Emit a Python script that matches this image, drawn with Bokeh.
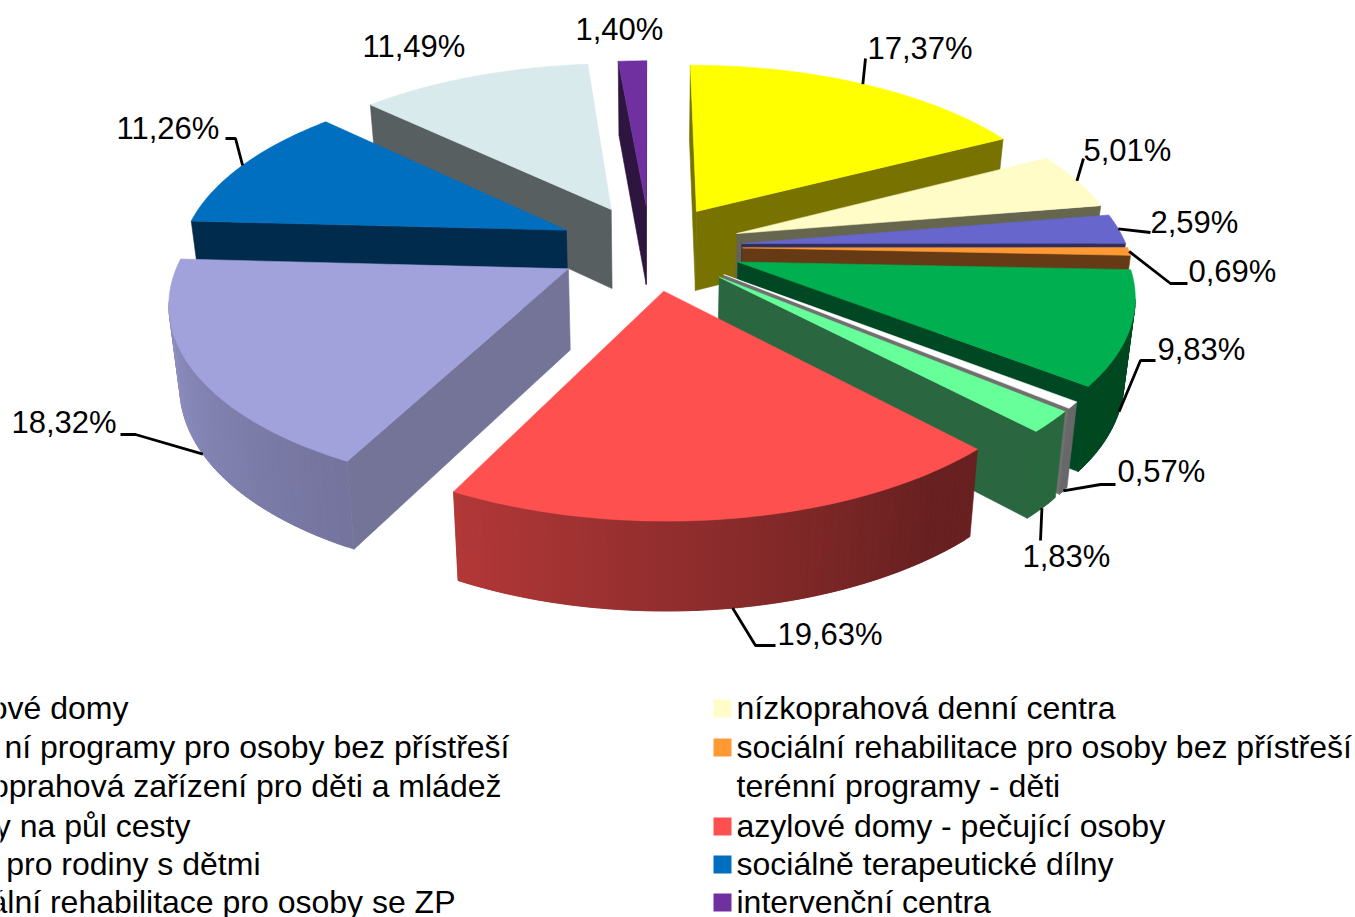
from math import sin, cos, radians
from bokeh.plotting import figure
from bokeh.embed import file_html
from bokeh.resources import INLINE
from bokeh.core.properties import value

# ---------- data ----------
categories = ["ové domy", "nízkoprahová denní centra",
              "ní programy pro osoby bez přístřeší", "sociální rehabilitace pro osoby bez přístřeší",
              "oprahová zařízení pro děti a mládež", "terénní programy - děti",
              "y na půl cesty", "azylové domy - pečující osoby",
              "pro rodiny s dětmi", "sociálně terapeutické dílny",
              "ální rehabilitace pro osoby se ZP", "intervenční centra"]
values = [17.37, 5.01, 2.59, 0.69, 9.83, 0.57, 1.83, 19.63, 18.32, 11.26, 11.49, 1.40]
value_labels = ["17,37%", "5,01%", "2,59%", "0,69%", "9,83%", "0,57%",
                "1,83%", "19,63%", "18,32%", "11,26%", "11,49%", "1,40%"]

# ---------- styles ----------
top_colors = ["#FFFF00", "#FFFCC8", "#6666CC", "#FF9933", "#00B050", "#FFFFFF",
              "#66FF99", "#FF5050", "#A1A1DB", "#006FBF", "#D9EAED", "#7030A0"]
wall_colors = ["#787300", "#66664F", "#2E2E5F", "#663A15", "#004823", "#707070",
               "#2A6640", "#8A2C2C", "#747499", "#002B4D", "#585F60", "#2D1540"]

# ---------- layout (pixel space of the picture) ----------
CX, CY = 649.5, 246.5
A, B, K = 385, 179, 0.155
EXPLODE = 0.24
FONT = value("Liberation Sans")
LABEL_SIZE = "31px"
LEGEND_SIZE = "32px"


def project(u, v):
    d = 1 + K * v
    return CX + A * u / d, CY - B * v / d


def drop(pt):
    x, y = pt
    return CX + (x - CX) * 0.977, y + 74 + 0.035 * (y - 66)


def rim_shade(theta):
    if theta < 207:
        return max(0.41, 0.37 + 0.0047 * (theta - 136))
    return min(0.95, 0.72 + 0.0032 * (theta - 207))


def scale_color(hexcol, f):
    r, g, b = (int(hexcol[i:i + 2], 16) for i in (1, 3, 5))
    return "#%02X%02X%02X" % (int(r * f), int(g * f), int(b * f))


total = sum(values)
slices = []
acc = 0.0
for i, val in enumerate(values):
    t0 = acc / total * 360
    acc += val
    t1 = acc / total * 360
    mid = (t0 + t1) / 2
    ox, oy = EXPLODE * sin(radians(mid)), EXPLODE * cos(radians(mid))
    n = max(2, int(t1 - t0) + 2)
    thetas = [t0 + (t1 - t0) * j / (n - 1) for j in range(n)]
    rim = [project(ox + sin(radians(t)), oy + cos(radians(t))) for t in thetas]
    apex = project(ox, oy)
    slices.append(dict(i=i, mid=mid, thetas=thetas, rim=rim, apex=apex,
                       anchor=project(ox + sin(radians(mid)), oy + cos(radians(mid)))))

xs, ys, fills = [], [], []


def add(poly, color):
    xs.append([q[0] for q in poly])
    ys.append([q[1] for q in poly])
    fills.append(color)


def wall(p, q, color):
    if q[0] - p[0] < 0:
        add([p, q, drop(q), drop(p)], color)


for s in sorted(slices, key=lambda s: -cos(radians(s["mid"]))):
    i, rim, apex = s["i"], s["rim"], s["apex"]
    wall(apex, rim[0], wall_colors[i])
    wall(rim[-1], apex, wall_colors[i])
    for j in range(len(rim) - 1):
        if rim[j + 1][0] < rim[j][0]:
            # each strip overlaps the next so no seam shows between them
            end = rim[min(j + 2, len(rim) - 1)]
            th = (s["thetas"][j] + s["thetas"][j + 1]) / 2
            add([rim[j], rim[j + 1], end, drop(end), drop(rim[j + 1]), drop(rim[j])],
                scale_color(top_colors[i], rim_shade(th)))
    add([apex] + rim, top_colors[i])

p = figure(width=1355, height=917, x_range=(0, 1355), y_range=(917, 0),
           output_backend="svg", toolbar_location=None, min_border=0,
           x_axis_type=None, y_axis_type=None, outline_line_color=None)
p.grid.visible = False
p.patches(xs, ys, fill_color=fills, line_color=fills, line_width=0.6)

# ---------- leader lines + value labels ----------
label_pos = [(867, 48), (1083, 150), (1150, 222), (1188, 271), (1157, 349), (1117, 471),
             (1022, 556), (777, 634), (11, 422), (116, 128), (362, 46), (575, 29)]
elbows = [[(865, 58)], [(1083, 158)], [(1150, 232)], [(1170, 283), (1187, 283)],
          [(1140, 360), (1155, 360)], [(1100, 484), (1115, 484)],
          [(1040, 540)], [(755, 645), (775, 645)], [(135, 434), (120, 434)],
          [(235, 138), (225, 138)], None, None]
for s in slices:
    e = elbows[s["i"]]
    if e is None:
        continue
    a = s["anchor"]
    if 100 < s["mid"] < 260:
        a = drop(a)
    pts = [a] + e
    p.line([q[0] for q in pts], [q[1] for q in pts], line_color="black", line_width=2.8)

p.text([q[0] for q in label_pos], [q[1] for q in label_pos], text=value_labels,
       text_font=FONT, text_font_size=LABEL_SIZE, text_color="black",
       text_align="left", text_baseline="middle")

# ---------- legend ----------
rows = [707, 746, 785, 825, 863, 901]
left_col_ends = [128, 509, 501, 190, 260, 455]
for k, name in enumerate(categories):
    col, row = k % 2, k // 2
    if col == 0:
        p.text([left_col_ends[row]], [rows[row]], text=[name], text_font=FONT, text_font_size=LEGEND_SIZE,
               text_color="black", text_align="right", text_baseline="middle")
    else:
        p.text([736], [rows[row]], text=[name], text_font=FONT, text_font_size=LEGEND_SIZE,
               text_color="black", text_align="left", text_baseline="middle")
        p.rect([722], [rows[row] + 1], width=18, height=18, fill_color=top_colors[k], line_color=None)

open("out.html", "w").write(file_html(p, INLINE))
